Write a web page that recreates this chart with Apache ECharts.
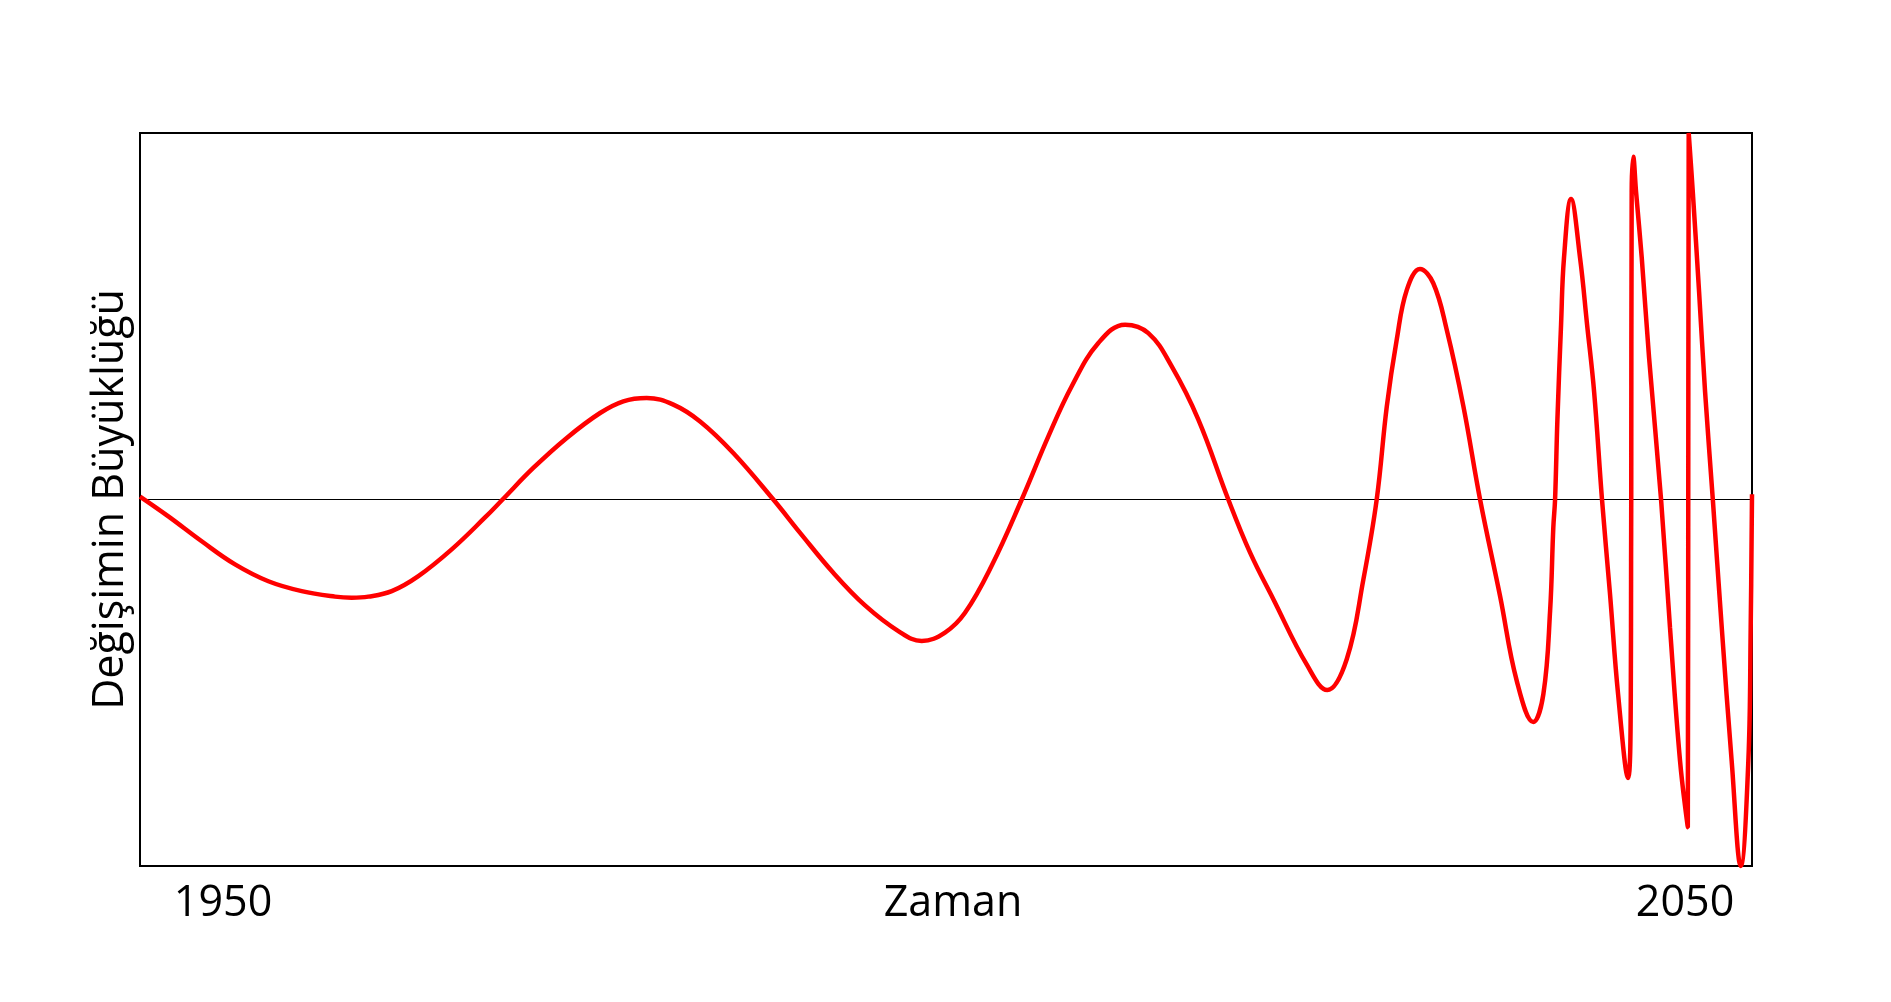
<!DOCTYPE html>
<html>
<head>
<meta charset="utf-8">
<script src="https://cdn.jsdelivr.net/npm/echarts@6/dist/echarts.min.js"></script>
<style>
html, body { margin: 0; padding: 0; background: #ffffff; }
#chart { width: 1891px; height: 1002px; }
</style>
</head>
<body>
<div id="chart"></div>
<script>
// Time (years) of each sampled point along the curve
var years = [
  1944.32, 1946.26, 1948.54, 1950.82, 1953.10, 1955.38, 1957.66, 1958.80, 1959.94, 1961.54,
  1963.36, 1965.64, 1967.92, 1969.12, 1971.22, 1973.51, 1975.79, 1977.38, 1978.98, 1980.80,
  1982.63, 1984.90, 1987.64, 1989.47, 1991.74, 1993.91, 1996.19, 1997.79, 1999.38, 2000.75,
  2002.58, 2004.63, 2006.45, 2008.05, 2009.87, 2011.70, 2013.29, 2014.89, 2016.71, 2018.76,
  2020.25, 2021.84, 2024.12, 2025.53, 2026.86, 2028.00, 2028.91, 2029.60, 2030.28, 2030.97,
  2031.87, 2032.78, 2033.70, 2034.84, 2035.98, 2037.35, 2038.49, 2039.62, 2040.31, 2040.77,
  2040.99, 2041.11, 2041.27, 2041.52, 2041.72, 2042.20, 2042.82, 2043.30, 2043.78, 2044.32,
  2044.87, 2045.42, 2046.10, 2046.29, 2046.31, 2046.32, 2046.35, 2046.46, 2046.65, 2047.04,
  2047.54, 2048.36, 2048.97, 2049.66, 2050.19, 2050.22, 2050.25, 2050.53, 2050.96, 2051.37,
  2051.90, 2052.51, 2053.19, 2053.81, 2054.33, 2054.49, 2054.58
];
// Magnitude of change at each of those times
var magnitudes = [
  0.008, -0.046, -0.114, -0.177, -0.223, -0.250, -0.265, -0.268, -0.265, -0.250,
  -0.209, -0.136, -0.049, 0.000, 0.086, 0.168, 0.236, 0.268, 0.277, 0.259,
  0.213, 0.127, 0.000, -0.091, -0.200, -0.289, -0.359, -0.386, -0.363, -0.309,
  -0.180, 0.000, 0.172, 0.309, 0.427, 0.477, 0.454, 0.363, 0.218, 0.000,
  -0.145, -0.272, -0.450, -0.520, -0.436, -0.218, 0.000, 0.254, 0.436, 0.572,
  0.629, 0.590, 0.463, 0.254, 0.000, -0.264, -0.495, -0.607, -0.531, -0.304,
  -0.076, 0.000, 0.218, 0.477, 0.659, 0.820, 0.659, 0.477, 0.294, 0.000,
  -0.259, -0.531, -0.760, -0.531, -0.169, 0.000, 0.839, 0.935, 0.839, 0.659,
  0.387, 0.000, -0.349, -0.714, -0.894, 0.000, 1.000, 0.839, 0.567, 0.294,
  0.000, -0.349, -0.714, -1.000, -0.714, -0.349, 0.014
];
var tickYears = [1950, 2050];
var xTitle = 'Zaman';
var yTitle = 'Değişimin Büyüklüğü';

var points = years.map(function (y, i) { return [y, magnitudes[i]]; });

var chart = echarts.init(document.getElementById('chart'), null, { renderer: 'canvas' });
var FONT = 'Open Sans';
chart.setOption({
  backgroundColor: '#ffffff',
  animation: false,
  grid: {
    left: 140, right: 139, top: 133, bottom: 136,
    show: true, borderColor: '#000000', borderWidth: 2, backgroundColor: 'transparent'
  },
  xAxis: {
    type: 'value',
    min: 1944.32, max: 2054.58,
    axisLine: { show: false },
    axisTick: { show: false },
    splitLine: { show: false },
    axisLabel: {
      customValues: tickYears,
      formatter: function (v) { return String(Math.round(v)); },
      color: '#000000', fontFamily: FONT, fontSize: 43, margin: 16
    },
    name: xTitle,
    nameLocation: 'middle',
    nameGap: 16,
    nameMoveOverlap: false,
    nameTextStyle: { color: '#000000', fontFamily: FONT, fontSize: 43, padding: [0, 0, 0, 14] }
  },
  yAxis: {
    type: 'value',
    min: -1, max: 1,
    axisLine: { show: false },
    axisTick: { show: false },
    splitLine: { show: false },
    axisLabel: { show: false },
    name: yTitle,
    nameLocation: 'middle',
    nameGap: 8,
    nameMoveOverlap: false,
    nameTextStyle: { color: '#000000', fontFamily: FONT, fontSize: 43 }
  },
  series: [{
    type: 'line',
    data: points,
    smooth: 0.4,
    clip: false,
    symbol: 'none',
    lineStyle: { color: '#ff0000', width: 4.5 },
    z: 3,
    markLine: {
      silent: true,
      symbol: 'none',
      label: { show: false },
      lineStyle: { color: '#000000', width: 1, type: 'solid' },
      data: [{ yAxis: 0 }],
      z: 1
    }
  }]
});
</script>
</body>
</html>
